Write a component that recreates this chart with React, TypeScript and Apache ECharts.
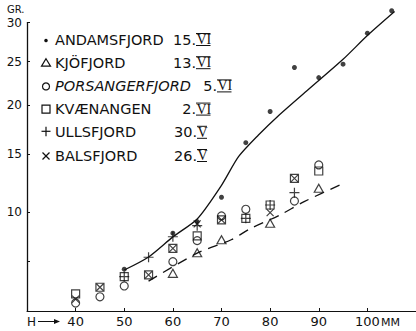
import React, { useEffect, useRef } from "react";
import * as echarts from "echarts";

// ---- data (length in mm, weight in g) ----
const xTickValues = [40, 50, 60, 70, 80, 90, 100];
const yLabelValues = [10, 15, 20, 25, 30];
const yTickValues = [6.6, 10, 15, 20, 25, 30];

const andamsfjord = [[50, 6.1], [60, 8.46], [65, 9.3], [70, 11.2], [75, 16.1], [80, 19.3], [85, 24.3], [90, 23.1], [95, 24.7], [100, 28.6], [105, 31.6]];
const kjofjord = [[60, 5.85], [65, 7.13], [70, 8.0], [80, 9.18], [90, 11.95]];
const porsangerfjord = [[40, 4.23], [45, 4.55], [50, 5.13], [60, 6.56], [65, 7.94], [70, 9.73], [75, 10.24], [85, 10.9], [90, 14.0]];
const kvaenangen = [[40, 4.7], [45, 5.06], [50, 5.66], [55, 5.76], [60, 7.42], [65, 8.27], [70, 9.43], [75, 9.55], [80, 10.58], [85, 12.8], [90, 13.45]];
const ullsfjord = [[50, 5.66], [55, 6.84], [60, 8.21], [65, 9.0], [75, 9.55], [80, 10.58], [85, 11.58]];
const balsfjord = [[40, 4.43], [45, 5.06], [55, 5.76], [60, 7.42], [65, 9.13], [70, 9.43], [80, 9.98], [85, 12.8]];

const solidCurve = [[50, 6.05], [55, 6.86], [60, 8.2], [65, 9.5], [70, 12.2], [73.5, 14.76], [77.6, 16.86], [81.6, 18.8], [87.8, 21.7], [95, 25.3], [100, 28.3], [105.6, 31.5]];
const dashedCurve = [[55, 5.4], [65, 7.1], [72, 8.0], [76, 8.8], [82, 9.8], [87, 10.85], [95.3, 12.4]];

const legendNames = ["ANDAMSFJORD", "KJÖFJORD", "PORSANGERFJORD", "KVÆNANGEN", "ULLSFJORD", "BALSFJORD"];
const legendDays = ["15.", "13.", "5.", "2.", "30.", "26."];
const legendMonths = ["VI", "VI", "VI", "VI", "V", "V"];

const FONT = "DejaVu Sans";
const INK = "#111";

const sq = (d: number[][]) => d.map(([x, w]) => [x, Math.sqrt(w)]);

export default function App() {
  const ref = useRef<HTMLDivElement>(null);
  useEffect(() => {
    if (!ref.current) return;
    const chart = echarts.init(ref.current, null, { renderer: "svg" });

    const open = { color: "none", borderColor: INK, borderWidth: 1.2 };
    const plus = "path://M5,0L5,10M0,5L10,5";
    const cross = "path://M0,0L10,10M10,0L0,10";

    // legend graphics
    const rowY = (i: number) => 39.5 + 23.2 * i;
    const monthX = [196, 196, 217, 196, 197, 197];
    const monthW = [14.5, 14.5, 14.5, 14.5, 10, 10];
    const legendGraphics: any[] = [];
    legendNames.forEach((n, i) => {
      const y = rowY(i);
      legendGraphics.push({
        type: "text", x: 55, y,
        style: { text: n, font: `${i === 2 ? "italic " : ""}14.5px '${FONT}'`, fill: INK, textVerticalAlign: "middle" },
      });
      legendGraphics.push({
        type: "text", x: monthX[i], y,
        style: { text: legendDays[i], font: `14.5px '${FONT}'`, fill: INK, textAlign: "right", textVerticalAlign: "middle" },
      });
      legendGraphics.push({
        type: "text", x: monthX[i] + 0.5, y,
        style: { text: legendMonths[i], font: `14px 'Liberation Serif'`, fill: INK, textVerticalAlign: "middle" },
      });
      legendGraphics.push({ type: "line", shape: { x1: monthX[i], y1: y - 6, x2: monthX[i] + monthW[i], y2: y - 6 }, style: { stroke: INK, lineWidth: 1 } });
      legendGraphics.push({ type: "line", shape: { x1: monthX[i], y1: y + 6, x2: monthX[i] + monthW[i], y2: y + 6 }, style: { stroke: INK, lineWidth: 1 } });
    });
    const sx = 46;
    legendGraphics.push({ type: "circle", shape: { cx: sx, cy: rowY(0) + 1, r: 1.8 }, style: { fill: INK } });
    legendGraphics.push({ type: "polygon", shape: { points: [[sx, rowY(1) - 4], [sx + 4.5, rowY(1) + 3.5], [sx - 4.5, rowY(1) + 3.5]] }, style: { fill: "none", stroke: INK, lineWidth: 1.2 } });
    legendGraphics.push({ type: "circle", shape: { cx: sx, cy: rowY(2) + 0.5, r: 3.5 }, style: { fill: "none", stroke: INK, lineWidth: 1.2 } });
    legendGraphics.push({ type: "rect", shape: { x: sx - 4, y: rowY(3) - 4, width: 8, height: 8 }, style: { fill: "none", stroke: INK, lineWidth: 1.2 } });
    legendGraphics.push({ type: "line", shape: { x1: sx - 4.5, y1: rowY(4) - 1, x2: sx + 4.5, y2: rowY(4) - 1 }, style: { stroke: INK, lineWidth: 1.2 } });
    legendGraphics.push({ type: "line", shape: { x1: sx, y1: rowY(4) - 5.5, x2: sx, y2: rowY(4) + 4 }, style: { stroke: INK, lineWidth: 1.2 } });
    legendGraphics.push({ type: "line", shape: { x1: sx - 3.5, y1: rowY(5) - 3, x2: sx + 3.5, y2: rowY(5) + 4 }, style: { stroke: INK, lineWidth: 1.2 } });
    legendGraphics.push({ type: "line", shape: { x1: sx + 3.5, y1: rowY(5) - 3, x2: sx - 3.5, y2: rowY(5) + 4 }, style: { stroke: INK, lineWidth: 1.2 } });

    const option: any = {
      animation: false,
      backgroundColor: "#fff",
      grid: { left: 27, right: -3, top: 22.6, bottom: 20 },
      xAxis: {
        type: "value", min: 30, max: 110,
        axisLine: { show: true, lineStyle: { color: INK, width: 1 } },
        axisTick: { show: true, inside: true, length: 3, lineStyle: { color: INK }, customValues: xTickValues },
        axisLabel: { customValues: xTickValues, color: INK, fontFamily: FONT, fontSize: 13, margin: 4 },
        splitLine: { show: false },
      },
      yAxis: {
        type: "value", min: Math.sqrt(3.84), max: Math.sqrt(30),
        axisLine: { show: true, lineStyle: { color: INK, width: 1.3 } },
        axisTick: { show: true, inside: true, length: 3, lineStyle: { color: INK }, customValues: yTickValues.map(Math.sqrt) },
        axisLabel: {
          customValues: yLabelValues.map(Math.sqrt), color: INK, fontFamily: FONT, fontSize: 12, margin: 5,
          formatter: (v: number) => String(Math.round(v * v)),
        },
        splitLine: { show: false },
      },
      graphic: [
        { type: "text", x: 7, y: 9, style: { text: "GR.", font: `10px '${FONT}'`, fill: INK, textVerticalAlign: "middle" } },
        { type: "text", x: 381, y: 322.5, style: { text: "MM", font: `11px '${FONT}'`, fill: INK, textVerticalAlign: "middle" } },
        { type: "text", x: 27, y: 321.5, style: { text: "H", font: `12px '${FONT}'`, fill: INK, textVerticalAlign: "middle" } },
        { type: "line", shape: { x1: 38, y1: 321.5, x2: 55, y2: 321.5 }, style: { stroke: INK, lineWidth: 1 } },
        { type: "polygon", shape: { points: [[54, 319], [60, 321.5], [54, 324]] }, style: { fill: INK } },
        ...legendGraphics,
      ],
      series: [
        { type: "line", data: sq(solidCurve), smooth: 0.25, showSymbol: false, clip: false, lineStyle: { color: INK, width: 1.3 }, z: 1 },
        { type: "line", data: sq(dashedCurve), smooth: 0.3, showSymbol: false, clip: false, lineStyle: { color: INK, width: 1.3, type: [10, 7] }, z: 1 },
        { name: "ANDAMSFJORD", type: "scatter", data: sq(andamsfjord), symbol: "circle", symbolSize: 5, clip: false, itemStyle: { color: INK }, z: 3 },
        { name: "KJÖFJORD", type: "scatter", data: sq(kjofjord), symbol: "triangle", symbolSize: [9, 8], clip: false, itemStyle: open, z: 2 },
        { name: "PORSANGERFJORD", type: "scatter", data: sq(porsangerfjord), symbol: "circle", symbolSize: 8, clip: false, itemStyle: open, z: 2 },
        { name: "KVÆNANGEN", type: "scatter", data: sq(kvaenangen), symbol: "rect", symbolSize: 8, clip: false, itemStyle: open, z: 2 },
        { name: "ULLSFJORD", type: "scatter", data: sq(ullsfjord), symbol: plus, symbolSize: 10, clip: false, itemStyle: open, z: 2 },
        { name: "BALSFJORD", type: "scatter", data: sq(balsfjord), symbol: cross, symbolSize: 7, clip: false, itemStyle: open, z: 2 },
      ],
    };
    chart.setOption(option);
    return () => chart.dispose();
  }, []);
  return <div ref={ref} style={{ position: "fixed", left: 0, top: 0, width: 416, height: 331, background: "#fff" }} />;
}
